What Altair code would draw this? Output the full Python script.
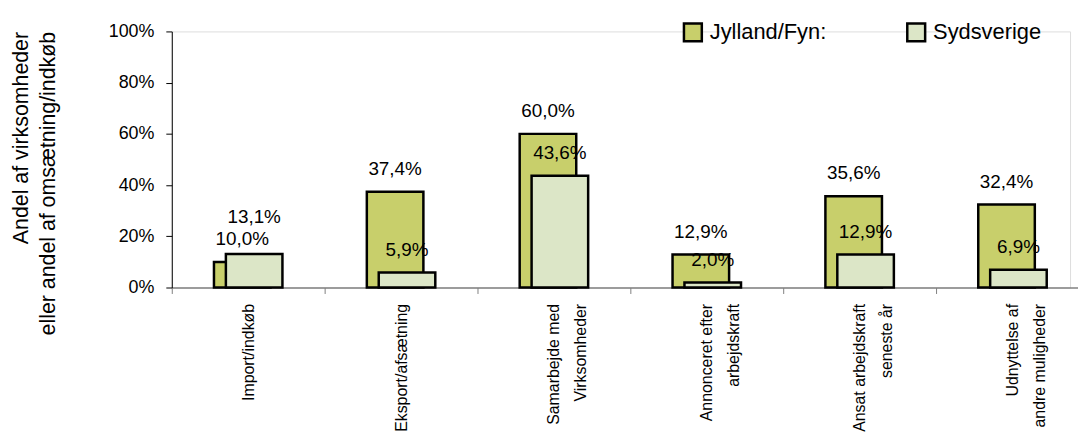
import altair as alt
import pandas as pd

categories = [
    "Import/indkøb",
    "Eksport/afsætning",
    "Samarbejde med\nVirksomheder",
    "Annonceret efter\narbejdskraft",
    "Ansat arbejdskraft\nseneste år",
    "Udnyttelse af\nandre muligheder",
]
series = ["Jylland/Fyn:", "Sydsverige"]
jylland = [10.0, 37.4, 60.0, 12.9, 35.6, 32.4]
sydsverige = [13.1, 5.9, 43.6, 2.0, 12.9, 6.9]
y_ticks = [0, 20, 40, 60, 80, 100]
y_title = ["Andel af virksomheder", "eller andel af omsætning/indkøb"]
colors = ["#C8CF6B", "#DCE6C7"]

rows = []
for s, vals in zip(series, [jylland, sydsverige]):
    for c, v in zip(categories, vals):
        rows.append({"kategori": c, "serie": s, "andel": v})
df = pd.DataFrame(rows)

FONT = "Liberation Sans, Arial"

x_enc = alt.X(
    "kategori:N",
    sort=categories,
    scale=alt.Scale(range=[0, 924], paddingInner=0, paddingOuter=0),
    axis=alt.Axis(
        title=None,
        labelAngle=-90,
        labelExpr="split(datum.label, '\\n')",
        labelFont=FONT,
        labelFontSize=16,
        labelColor="black",
        labelPadding=10,
        labelLineHeight=27,
        tickBand="extent",
        tickSize=6,
        tickColor="#808080",
        domainColor="#808080",
        domainWidth=1.5,
    ),
)
y_axis = alt.Axis(
    values=y_ticks,
    labelExpr="datum.value + '%'",
    labelFont=FONT,
    labelFontSize=18,
    labelColor="black",
    labelPadding=12,
    tickSize=6,
    tickColor="black",
    domainColor="black",
    grid=False,
    title=y_title,
    titleFont=FONT,
    titleFontSize=21.5,
    titleFontWeight="normal",
    titleColor="black",
    titleAngle=-90,
    titleAlign="right",
    titleBaseline="top",
    titleX=-162,
    titleY=0,
    titleLineHeight=27,
)
y_scale = alt.Scale(domain=[0, 100], nice=False)
y_enc = alt.Y("andel:Q", scale=y_scale, axis=y_axis)
y_lbl = alt.Y("lbl_y:Q", scale=y_scale, axis=y_axis)

color_enc = alt.Color(
    "serie:N",
    scale=alt.Scale(domain=series, range=colors),
    legend=alt.Legend(
        title=None,
        orient="none",
        legendX=514,
        legendY=-10,
        direction="horizontal",
        symbolType="square",
        symbolSize=324,
        symbolStrokeColor="black",
        symbolStrokeWidth=2.5,
        labelFont=FONT,
        labelFontSize=22,
        labelColor="black",
        labelOffset=6,
        columnPadding=76,
        gridAlign="all",
        padding=0,
    ),
)

# Label text in Danish number format; a Sydsverige label is lifted above the
# Jylland label when its bar is the taller one in that category.
base = (
    alt.Chart(df)
    .transform_calculate(
        lbl="replace(format(datum.andel, '.1f'), '.', ',') + '%'",
        jv=f"datum.serie == '{series[0]}' ? datum.andel : 0",
    )
    .transform_joinaggregate(jmax="max(jv)", groupby=["kategori"])
    .transform_calculate(
        lbl_y=f"datum.serie == '{series[1]}' && datum.andel > datum.jmax ? datum.andel + 5.5 : datum.andel"
    )
)


def layer_for(name, offset):
    sub = base.transform_filter(alt.datum.serie == name)
    bars = sub.mark_bar(
        width=alt.RelativeBandSize(0.37),
        xOffset=offset,
        stroke="black",
        strokeWidth=2.5,
    ).encode(x=x_enc, y=y_enc, color=color_enc)
    text = sub.mark_text(
        xOffset=offset,
        dy=-17,
        baseline="alphabetic",
        font=FONT,
        fontSize=19,
        color="black",
    ).encode(x=x_enc, y=y_lbl, text="lbl:N")
    return bars, text


bj, tj = layer_for(series[0], -6)
bs, ts = layer_for(series[1], 6)

chart = (
    alt.layer(bj, bs, tj, ts)
    .properties(
        width=905,
        height=258,
        autosize=alt.AutoSizeParams(type="none"),
        padding={"left": 165, "top": 22, "right": 8, "bottom": 150},
    )
    .configure_view(stroke=None)
    .configure(background="white")
)

chart.save("out.html", embed_options={"renderer": "svg", "actions": False})
